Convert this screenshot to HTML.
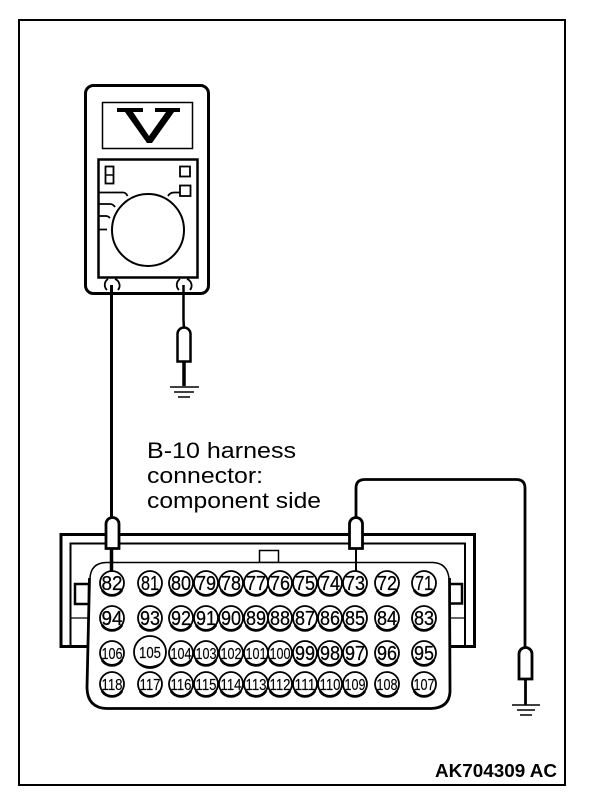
<!DOCTYPE html>
<html>
<head>
<meta charset="utf-8">
<style>
html,body{margin:0;padding:0;background:#fff;width:608px;height:804px;overflow:hidden}
svg{display:block}
text{font-family:"Liberation Sans",sans-serif;fill:#000}
</style>
</head>
<body>
<svg width="608" height="804" viewBox="0 0 608 804" xmlns="http://www.w3.org/2000/svg">
<rect width="608" height="804" fill="#fff"/>
<rect x="19" y="20" width="546" height="765" fill="none" stroke="#000" stroke-width="2"/>

<!-- meter -->
<rect x="85.500" y="85.500" width="123" height="208" rx="8" fill="#fff" stroke="#000" stroke-width="3"/>
<rect x="102.500" y="102.500" width="90" height="46" fill="none" stroke="#000" stroke-width="1.500"/>
<polygon points="117,108 143,108 143,112 133,112 149,136 166,112 155,112 155,108 180,108 180,112 174,112 152,143 147,143 125,112 117,112" fill="#000"/>
<rect x="98.500" y="159.500" width="99" height="118" fill="none" stroke="#000" stroke-width="2.500"/>
<rect x="105.500" y="166.500" width="8" height="17" fill="none" stroke="#000" stroke-width="1.800"/>
<line x1="105" y1="175" x2="114" y2="175" stroke="#000" stroke-width="1.500"/>
<rect x="180" y="166.500" width="10" height="10" fill="none" stroke="#000" stroke-width="1.800"/>
<rect x="180" y="185.500" width="10.500" height="10.500" fill="none" stroke="#000" stroke-width="1.800"/>
<circle cx="148" cy="230" r="36" fill="#fff" stroke="#000" stroke-width="2"/>
<path d="M99 192.500H123Q126 192.500 127.500 196M99 204H110Q113 204 115 207M99 216H106Q108 216 110 218M99 229.500H107M180 192.500H174Q170 192.500 168 196" fill="none" stroke="#000" stroke-width="1.800"/>
<path d="M107 290A7 7 0 0 1 108 279M115 279A7 7 0 0 1 118 290M179 290A7 7 0 0 1 180 279M187 279A7 7 0 0 1 190 290" fill="none" stroke="#000" stroke-width="1.800"/>

<!-- probes and wires -->
<line x1="111.500" y1="285" x2="111.500" y2="518" stroke="#000" stroke-width="3"/>
<path d="M183.500 285V320L184 329" fill="none" stroke="#000" stroke-width="2.500"/>
<path d="M177.500 361.500V334A6.500 6.500 0 0 1 190.500 334V361.500Z" fill="#fff" stroke="#000" stroke-width="2.500"/>
<line x1="184" y1="362" x2="184" y2="386" stroke="#000" stroke-width="3.500"/>
<line x1="170" y1="387" x2="199" y2="387" stroke="#000" stroke-width="1.500"/>
<line x1="174" y1="392" x2="194" y2="392" stroke="#000" stroke-width="1.500"/>
<line x1="178" y1="397" x2="190" y2="397" stroke="#000" stroke-width="1.500"/>

<text x="147" y="458" font-size="22.500" textLength="149" lengthAdjust="spacingAndGlyphs">B-10 harness</text>
<text x="147" y="483" font-size="22.500" textLength="116" lengthAdjust="spacingAndGlyphs">connector:</text>
<text x="147" y="508" font-size="22.500" textLength="174" lengthAdjust="spacingAndGlyphs">component side</text>

<!-- connector housing -->
<path d="M87 646.500H61V534.500H474.500V646.500H450" fill="none" stroke="#000" stroke-width="3"/>
<path d="M70.500 646V543.500H465V646" fill="none" stroke="#000" stroke-width="2"/>
<rect x="259.500" y="550.500" width="19" height="12" fill="#fff" stroke="#000" stroke-width="1.500"/>
<rect x="75" y="584" width="14" height="20" fill="#fff" stroke="#000" stroke-width="2.500"/>
<rect x="448" y="584" width="14" height="19.500" fill="#fff" stroke="#000" stroke-width="2.500"/>
<line x1="70" y1="618" x2="88" y2="618" stroke="#000" stroke-width="1.200"/>
<line x1="450" y1="618" x2="465" y2="618" stroke="#000" stroke-width="1.200"/>
<path d="M105 562H433Q449 562 449 578V690Q449 708 431 708H107Q87 708 87 688L90 578Q91 562 105 562Z" fill="#fff"/>
<path d="M90 578Q91 563 106 562.500H433Q447 563 449 578" fill="none" stroke="#000" stroke-width="1.500"/>
<path d="M449.500 578L450 692Q449 708 431 708.500H107Q87.500 708 87 688L89.500 578" fill="none" stroke="#000" stroke-width="2.800"/>

<!-- pins -->
<g fill="#fff" stroke="#000" stroke-width="1.800">
<circle cx="112" cy="583" r="12"/><circle cx="150" cy="583" r="12"/><circle cx="181" cy="583" r="12"/><circle cx="206" cy="583" r="12"/><circle cx="231" cy="583" r="12"/><circle cx="256" cy="583" r="12"/><circle cx="280" cy="583" r="12"/><circle cx="305" cy="583" r="12"/><circle cx="330" cy="583" r="12"/><circle cx="355" cy="583" r="12"/><circle cx="387" cy="583" r="12"/><circle cx="424" cy="583" r="12"/>
<circle cx="112" cy="618" r="12"/><circle cx="150" cy="618" r="12"/><circle cx="181" cy="618" r="12"/><circle cx="206" cy="618" r="12"/><circle cx="231" cy="618" r="12"/><circle cx="256" cy="618" r="12"/><circle cx="280" cy="618" r="12"/><circle cx="305" cy="618" r="12"/><circle cx="330" cy="618" r="12"/><circle cx="355" cy="618" r="12"/><circle cx="387" cy="618" r="12"/><circle cx="424" cy="618" r="12"/>
<circle cx="112" cy="653" r="12"/><circle cx="150" cy="652" r="16"/><circle cx="181" cy="653" r="12"/><circle cx="206" cy="653" r="12"/><circle cx="231" cy="653" r="12"/><circle cx="256" cy="653" r="12"/><circle cx="280" cy="653" r="12"/><circle cx="305" cy="653" r="12"/><circle cx="330" cy="653" r="12"/><circle cx="355" cy="653" r="12"/><circle cx="387" cy="653" r="12"/><circle cx="424" cy="653" r="12"/>
<circle cx="112" cy="684" r="12"/><circle cx="150" cy="684" r="12"/><circle cx="181" cy="684" r="12"/><circle cx="206" cy="684" r="12"/><circle cx="231" cy="684" r="12"/><circle cx="256" cy="684" r="12"/><circle cx="280" cy="684" r="12"/><circle cx="305" cy="684" r="12"/><circle cx="330" cy="684" r="12"/><circle cx="355" cy="684" r="12"/><circle cx="387" cy="684" r="12"/><circle cx="424" cy="684" r="12"/>
</g>
<!-- thick lower edge on the pins -->
<path fill="none" stroke="#000" stroke-width="2.800" d="M102 590A12 12 0 0 0 122 590M140 590A12 12 0 0 0 160 590M171 590A12 12 0 0 0 191 590M196 590A12 12 0 0 0 216 590M221 590A12 12 0 0 0 241 590M246 590A12 12 0 0 0 266 590M270 590A12 12 0 0 0 290 590M295 590A12 12 0 0 0 315 590M320 590A12 12 0 0 0 340 590M345 590A12 12 0 0 0 365 590M377 590A12 12 0 0 0 397 590M414 590A12 12 0 0 0 434 590M102 625A12 12 0 0 0 122 625M140 625A12 12 0 0 0 160 625M171 625A12 12 0 0 0 191 625M196 625A12 12 0 0 0 216 625M221 625A12 12 0 0 0 241 625M246 625A12 12 0 0 0 266 625M270 625A12 12 0 0 0 290 625M295 625A12 12 0 0 0 315 625M320 625A12 12 0 0 0 340 625M345 625A12 12 0 0 0 365 625M377 625A12 12 0 0 0 397 625M414 625A12 12 0 0 0 434 625M102 660A12 12 0 0 0 122 660M171 660A12 12 0 0 0 191 660M196 660A12 12 0 0 0 216 660M221 660A12 12 0 0 0 241 660M246 660A12 12 0 0 0 266 660M270 660A12 12 0 0 0 290 660M295 660A12 12 0 0 0 315 660M320 660A12 12 0 0 0 340 660M345 660A12 12 0 0 0 365 660M377 660A12 12 0 0 0 397 660M414 660A12 12 0 0 0 434 660M102 691A12 12 0 0 0 122 691M140 691A12 12 0 0 0 160 691M171 691A12 12 0 0 0 191 691M196 691A12 12 0 0 0 216 691M221 691A12 12 0 0 0 241 691M246 691A12 12 0 0 0 266 691M270 691A12 12 0 0 0 290 691M295 691A12 12 0 0 0 315 691M320 691A12 12 0 0 0 340 691M345 691A12 12 0 0 0 365 691M377 691A12 12 0 0 0 397 691M414 691A12 12 0 0 0 434 691"/>
<g text-anchor="middle" font-size="20" stroke="#000" stroke-width="0.250">
<text x="112" y="590" textLength="21" lengthAdjust="spacingAndGlyphs">82</text><text x="150" y="590" textLength="18" lengthAdjust="spacingAndGlyphs">81</text><text x="181" y="590" textLength="20" lengthAdjust="spacingAndGlyphs">80</text><text x="206" y="590" textLength="20" lengthAdjust="spacingAndGlyphs">79</text><text x="231" y="590" textLength="20" lengthAdjust="spacingAndGlyphs">78</text><text x="256" y="590" textLength="20" lengthAdjust="spacingAndGlyphs">77</text><text x="280" y="590" textLength="20" lengthAdjust="spacingAndGlyphs">76</text><text x="305" y="590" textLength="20" lengthAdjust="spacingAndGlyphs">75</text><text x="330" y="590" textLength="20" lengthAdjust="spacingAndGlyphs">74</text><text x="355" y="590" textLength="20" lengthAdjust="spacingAndGlyphs">73</text><text x="387" y="590" textLength="20" lengthAdjust="spacingAndGlyphs">72</text><text x="424" y="590" textLength="18" lengthAdjust="spacingAndGlyphs">71</text>
<text x="112" y="625" textLength="21" lengthAdjust="spacingAndGlyphs">94</text><text x="150" y="625" textLength="20" lengthAdjust="spacingAndGlyphs">93</text><text x="181" y="625" textLength="20" lengthAdjust="spacingAndGlyphs">92</text><text x="206" y="625" textLength="20" lengthAdjust="spacingAndGlyphs">91</text><text x="231" y="625" textLength="20" lengthAdjust="spacingAndGlyphs">90</text><text x="256" y="625" textLength="20" lengthAdjust="spacingAndGlyphs">89</text><text x="280" y="625" textLength="20" lengthAdjust="spacingAndGlyphs">88</text><text x="305" y="625" textLength="20" lengthAdjust="spacingAndGlyphs">87</text><text x="330" y="625" textLength="20" lengthAdjust="spacingAndGlyphs">86</text><text x="355" y="625" textLength="20" lengthAdjust="spacingAndGlyphs">85</text><text x="387" y="625" textLength="20" lengthAdjust="spacingAndGlyphs">84</text><text x="424" y="625" textLength="20" lengthAdjust="spacingAndGlyphs">83</text>
<text x="355" y="660" textLength="20" lengthAdjust="spacingAndGlyphs">97</text><text x="330" y="660" textLength="20" lengthAdjust="spacingAndGlyphs">98</text><text x="305" y="660" textLength="20" lengthAdjust="spacingAndGlyphs">99</text><text x="387" y="660" textLength="20" lengthAdjust="spacingAndGlyphs">96</text><text x="424" y="660" textLength="20" lengthAdjust="spacingAndGlyphs">95</text>
</g>
<g text-anchor="middle" font-size="16" stroke="#000" stroke-width="0.150">
<text x="112" y="659" textLength="21" lengthAdjust="spacingAndGlyphs">106</text><text x="150" y="658" textLength="22" lengthAdjust="spacingAndGlyphs">105</text><text x="181" y="659" textLength="21" lengthAdjust="spacingAndGlyphs">104</text><text x="206" y="659" textLength="21" lengthAdjust="spacingAndGlyphs">103</text><text x="231" y="659" textLength="21" lengthAdjust="spacingAndGlyphs">102</text><text x="256" y="659" textLength="21" lengthAdjust="spacingAndGlyphs">101</text><text x="280" y="659" textLength="21" lengthAdjust="spacingAndGlyphs">100</text>
<text x="112" y="690" textLength="21" lengthAdjust="spacingAndGlyphs">118</text><text x="150" y="690" textLength="21" lengthAdjust="spacingAndGlyphs">117</text><text x="181" y="690" textLength="21" lengthAdjust="spacingAndGlyphs">116</text><text x="206" y="690" textLength="21" lengthAdjust="spacingAndGlyphs">115</text><text x="231" y="690" textLength="21" lengthAdjust="spacingAndGlyphs">114</text><text x="256" y="690" textLength="21" lengthAdjust="spacingAndGlyphs">113</text><text x="280" y="690" textLength="21" lengthAdjust="spacingAndGlyphs">112</text><text x="305" y="690" textLength="21" lengthAdjust="spacingAndGlyphs">111</text><text x="330" y="690" textLength="21" lengthAdjust="spacingAndGlyphs">110</text><text x="355" y="690" textLength="21" lengthAdjust="spacingAndGlyphs">109</text><text x="387" y="690" textLength="21" lengthAdjust="spacingAndGlyphs">108</text><text x="424" y="690" textLength="21" lengthAdjust="spacingAndGlyphs">107</text>
</g>
<path d="M140 664Q150 670 160 664M145 666Q150 669 155 666" fill="none" stroke="#000" stroke-width="1.800"/>

<!-- connector probes -->
<line x1="111.500" y1="548" x2="111.500" y2="572" stroke="#000" stroke-width="3.500"/>
<line x1="356" y1="548" x2="356" y2="572" stroke="#000" stroke-width="2"/>
<path d="M106 548.500V524A6.500 6.500 0 0 1 119 524V548.500Z" fill="#fff" stroke="#000" stroke-width="2.800"/>
<path d="M349.500 548.500V524A6.500 6.500 0 0 1 362.500 524V548.500Z" fill="#fff" stroke="#000" stroke-width="2.800"/>
<path d="M356 517V488Q356 479.500 365 479.500H516Q525 479.500 525 488V647" fill="none" stroke="#000" stroke-width="2.800"/>
<path d="M519 679V654A6.500 6.500 0 0 1 532 654V679Z" fill="#fff" stroke="#000" stroke-width="2.800"/>
<line x1="525.500" y1="679" x2="525.500" y2="705" stroke="#000" stroke-width="2.800"/>
<line x1="512" y1="705" x2="540" y2="705" stroke="#000" stroke-width="1.500"/>
<line x1="517" y1="710" x2="535" y2="710" stroke="#000" stroke-width="1.500"/>
<line x1="520" y1="715" x2="532" y2="715" stroke="#000" stroke-width="1.500"/>

<text x="435" y="777" font-size="18.500" font-weight="bold" textLength="122" lengthAdjust="spacingAndGlyphs">AK704309 AC</text>
</svg>
</body>
</html>
